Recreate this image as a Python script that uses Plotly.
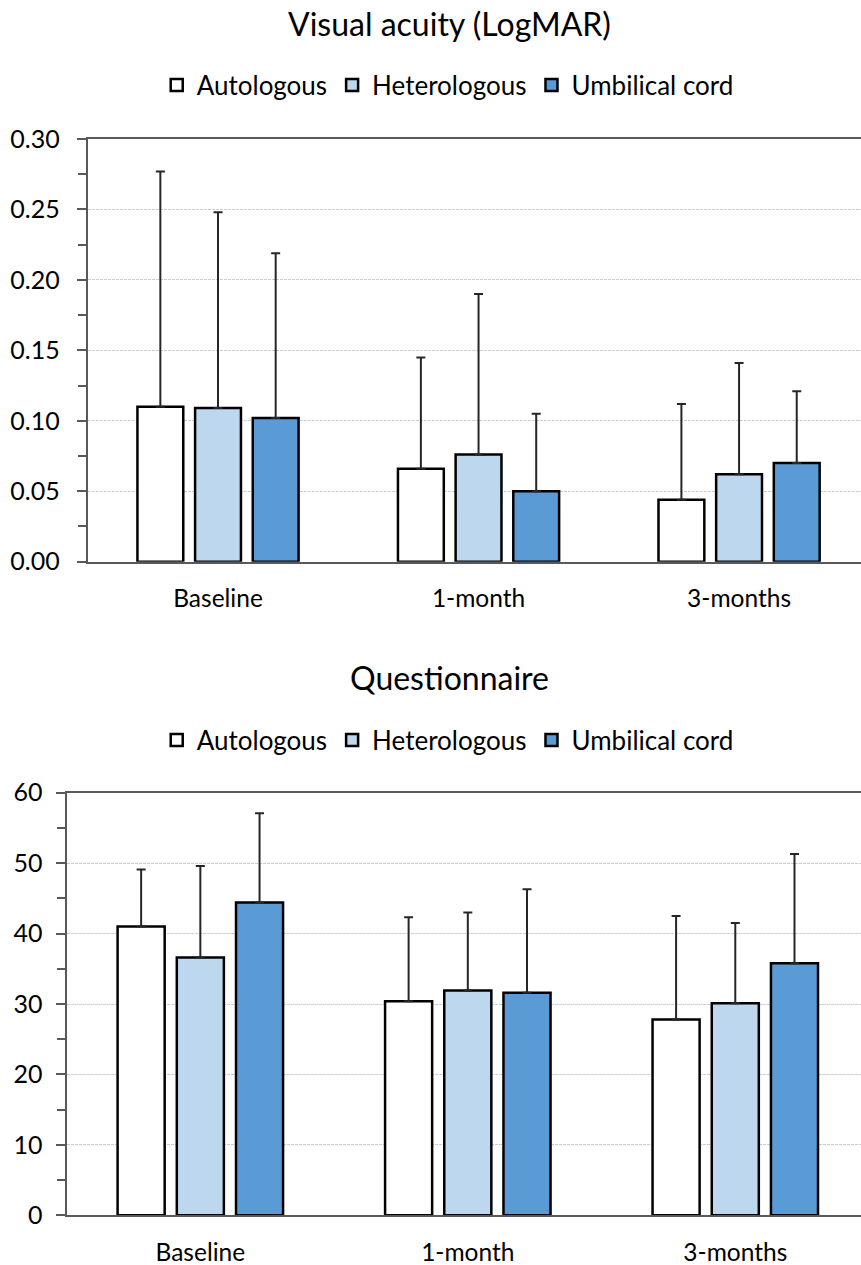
import plotly.graph_objects as go

categories = ["Baseline", "1-month", "3-months"]
groups = ["Autologous", "Heterologous", "Umbilical cord"]
colors = ["#FFFFFF", "#BDD7EE", "#5B9BD5"]

# Visual acuity (LogMAR): means and upper SD
va_mean = {
    "Autologous": [0.110, 0.066, 0.044],
    "Heterologous": [0.109, 0.076, 0.062],
    "Umbilical cord": [0.102, 0.050, 0.070],
}
va_sd = {
    "Autologous": [0.167, 0.079, 0.068],
    "Heterologous": [0.139, 0.114, 0.079],
    "Umbilical cord": [0.117, 0.055, 0.051],
}

# Questionnaire: means and upper SD
q_mean = {
    "Autologous": [41.0, 30.4, 27.8],
    "Heterologous": [36.6, 31.9, 30.1],
    "Umbilical cord": [44.4, 31.6, 35.8],
}
q_sd = {
    "Autologous": [8.1, 11.9, 14.7],
    "Heterologous": [13.0, 11.1, 11.4],
    "Umbilical cord": [12.7, 14.7, 15.5],
}

W, H = 861, 1265
FONT = "Lato"
TXT = "#000000"
AX = "#595959"

fig = go.Figure()

for g, c in zip(groups, colors):
    fig.add_trace(go.Bar(
        x=categories, y=va_mean[g], name=g, legend="legend",
        marker=dict(color=c, line=dict(color="#000000", width=2.5)),
        error_y=dict(type="data", symmetric=False, array=va_sd[g],
                     arrayminus=[0] * len(categories), color="#262626",
                     thickness=2, width=4.5),
        xaxis="x", yaxis="y",
    ))
for g, c in zip(groups, colors):
    fig.add_trace(go.Bar(
        x=categories, y=q_mean[g], name=g, legend="legend2",
        marker=dict(color=c, line=dict(color="#000000", width=2.5)),
        error_y=dict(type="data", symmetric=False, array=q_sd[g],
                     arrayminus=[0] * len(categories), color="#262626",
                     thickness=2, width=4.5),
        xaxis="x2", yaxis="y2",
    ))

def py(px):
    return 1 - px / H

common_x = dict(
    type="category", showline=True, mirror=True, linecolor=AX, linewidth=2,
    ticks="", showgrid=False, tickfont=dict(family=FONT, size=24.5, color=TXT),
    ticklabelstandoff=14, fixedrange=True, automargin=False,
)
common_y = dict(
    showline=True, linecolor=AX, linewidth=2, ticks="outside", ticklen=9,
    tickcolor=AX, tickwidth=1.5, showgrid=True, gridcolor="#cccccc",
    gridwidth=1.3, griddash="3px,1px", zeroline=False, automargin=False,
    tickfont=dict(family=FONT, size=25, color=TXT), fixedrange=True,
)

fig.update_layout(
    width=W, height=H,
    margin=dict(l=0, r=0, t=0, b=0, autoexpand=False),
    paper_bgcolor="white", plot_bgcolor="white",
    barmode="group", bargap=0.336, bargroupgap=0.205,
    font=dict(family=FONT, color=TXT),
    xaxis=dict(common_x, domain=[87.75 / W, 1], range=[-0.5, 2.468], anchor="y"),
    yaxis=dict(common_y, domain=[py(561.7), py(139)], range=[0, 0.30],
               dtick=0.05, tickformat=".2f", anchor="x", ticklabelstandoff=12,
               minor=dict(dtick=0.025, ticks="outside", ticklen=8,
                          tickcolor=AX, tickwidth=1.5, showgrid=False)),
    xaxis2=dict(common_x, domain=[66.6 / W, 1], range=[-0.5, 2.470], anchor="y2"),
    yaxis2=dict(common_y, domain=[py(1215.3), py(792.7)], range=[0, 60],
                dtick=10, anchor="x2", ticklabelstandoff=8,
                minor=dict(dtick=5, ticks="outside", ticklen=8,
                           tickcolor=AX, tickwidth=1.5, showgrid=False)),
    legend=dict(orientation="h", x=0.52, y=py(85), xanchor="center",
                yanchor="middle", font=dict(family=FONT, size=26, color=TXT),
                itemwidth=30, tracegroupgap=0, bgcolor="rgba(0,0,0,0)"),
    legend2=dict(orientation="h", x=0.52, y=py(740), xanchor="center",
                 yanchor="middle", font=dict(family=FONT, size=26, color=TXT),
                 itemwidth=30, tracegroupgap=0, bgcolor="rgba(0,0,0,0)"),
    annotations=[
        dict(text="Visual acuity (LogMAR)", x=449 / W, y=py(23), xref="paper",
             yref="paper", showarrow=False, xanchor="center", yanchor="middle",
             font=dict(family=FONT, size=32, color=TXT)),
        dict(text="Questionnaire", x=449 / W, y=py(677), xref="paper",
             yref="paper", showarrow=False, xanchor="center", yanchor="middle",
             font=dict(family=FONT, size=32, color=TXT)),
    ],
)

fig.write_html(
    "out.html",
    config={"displayModeBar": False},
    post_script="document.body.style.margin='0';document.body.style.overflow='hidden';",
)
